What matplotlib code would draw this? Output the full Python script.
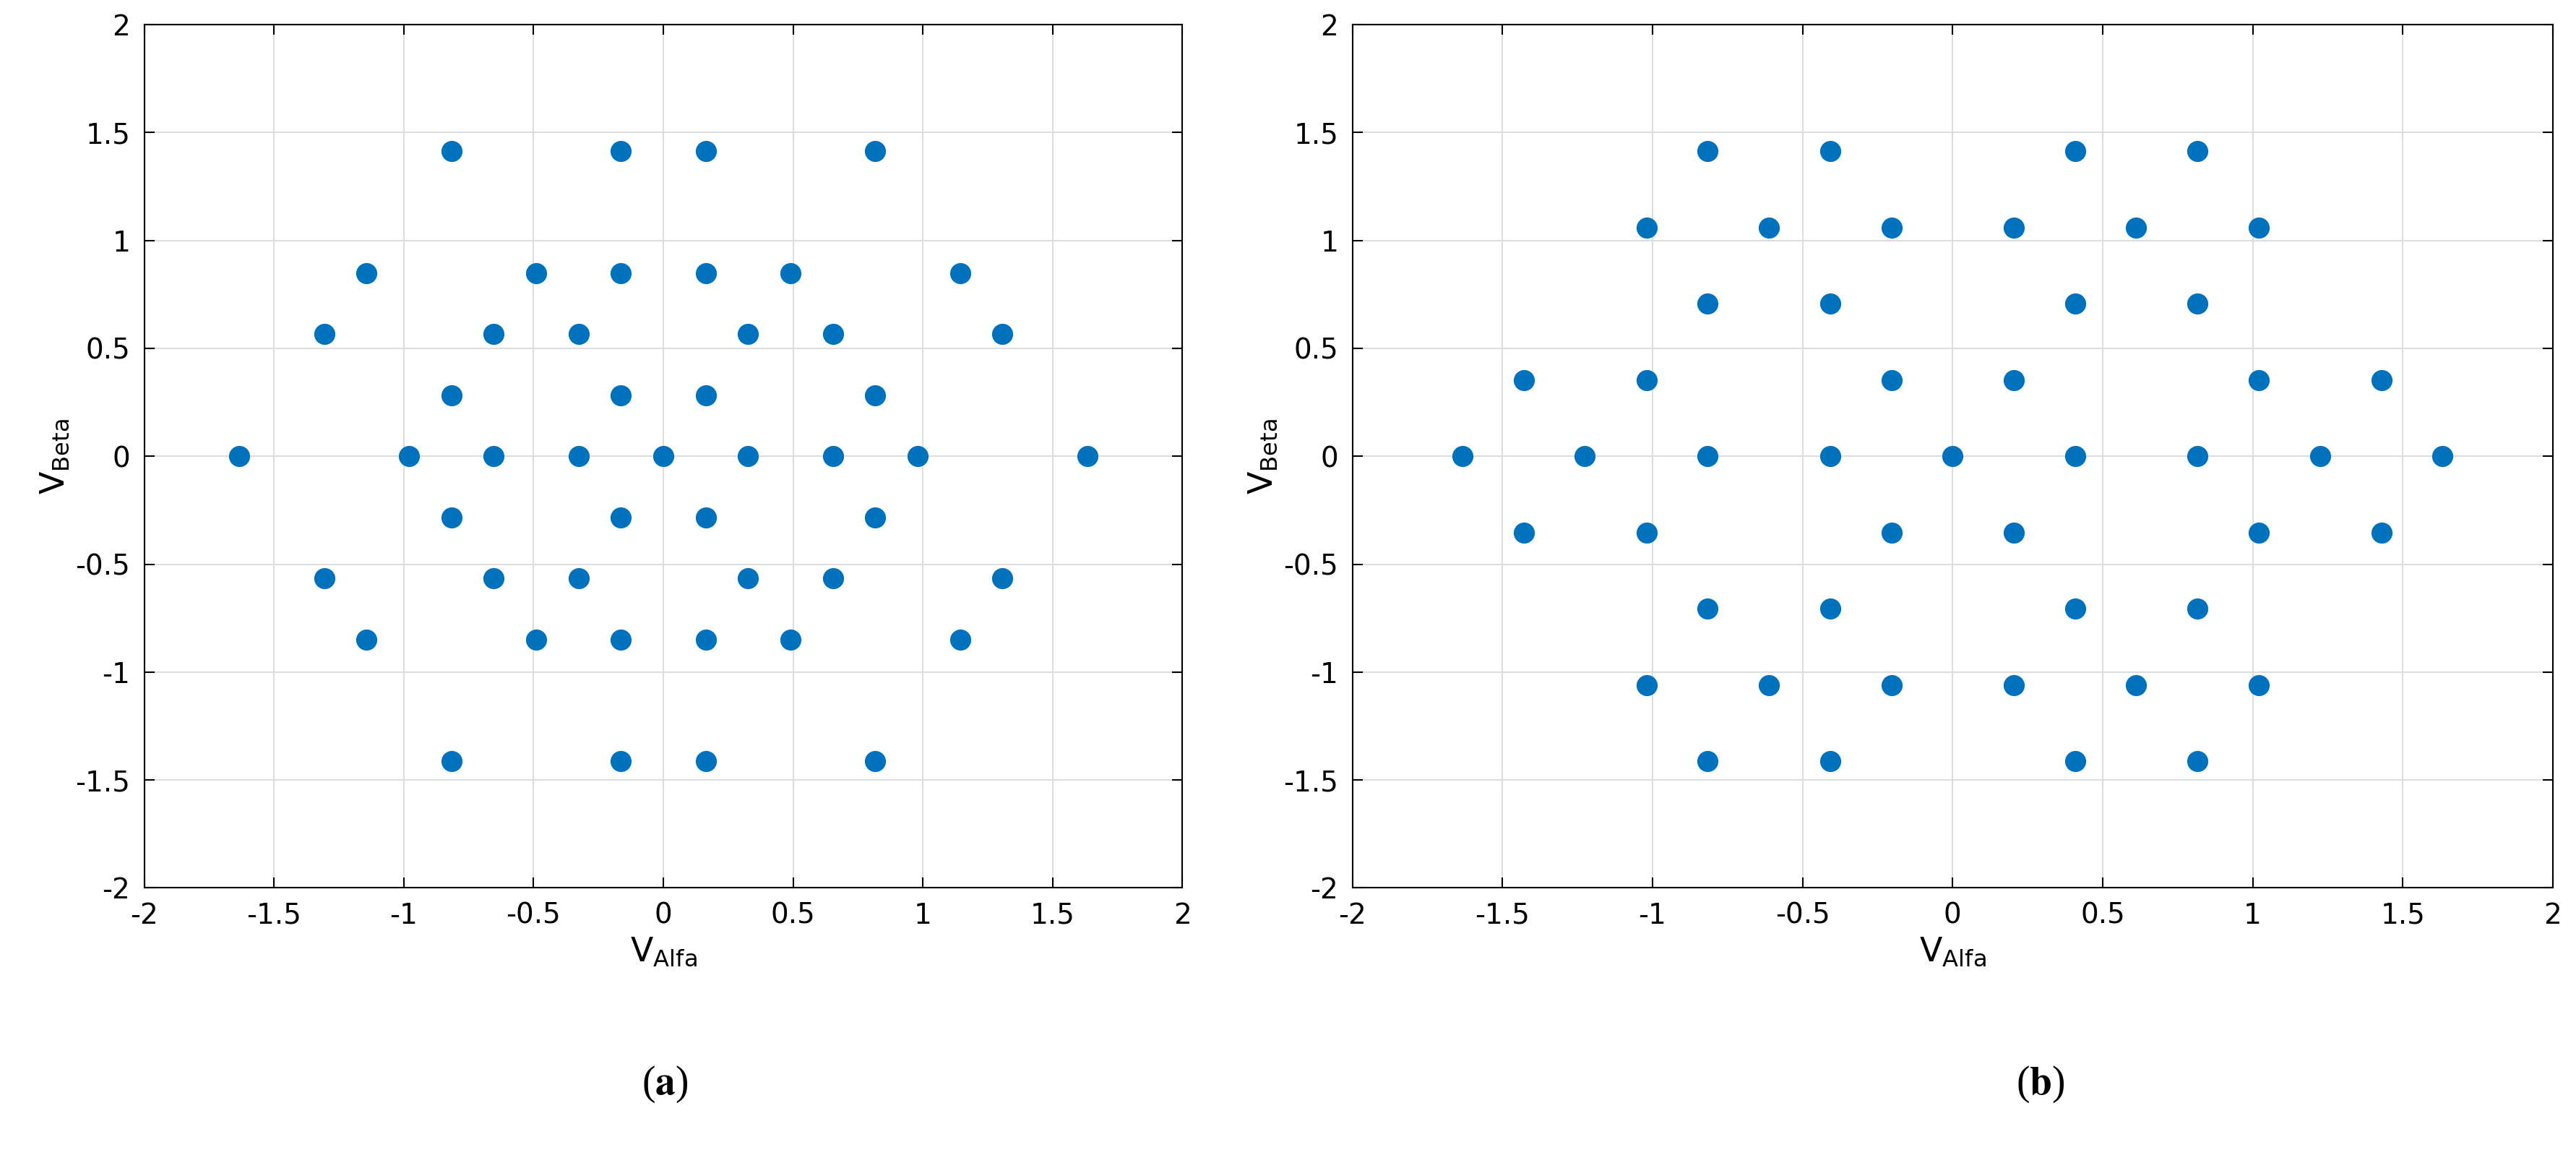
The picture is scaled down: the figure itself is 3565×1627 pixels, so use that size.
import matplotlib
matplotlib.use("Agg")
import matplotlib.pyplot as plt
import numpy as np

# panel (a) upper half rows (y, list of x); lower half is mirrored
a_rows = [
    (1.414, [-0.816, -0.163, 0.163, 0.816]),
    (0.849, [-1.143, -0.49, -0.163, 0.163, 0.49, 1.143]),
    (0.566, [-1.306, -0.653, -0.327, 0.327, 0.653, 1.306]),
    (0.283, [-0.816, -0.163, 0.163, 0.816]),
]
a_zero = [-1.633, -0.98, -0.653, -0.327, 0.0, 0.327, 0.653, 0.98, 1.633]

b_rows = [
    (1.414, [-0.816, -0.408, 0.408, 0.816]),
    (1.061, [-1.02, -0.612, -0.204, 0.204, 0.612, 1.02]),
    (0.707, [-0.816, -0.408, 0.408, 0.816]),
    (0.354, [-1.429, -1.02, -0.204, 0.204, 1.02, 1.429]),
]
b_zero = [-1.633, -1.225, -0.816, -0.408, 0.0, 0.408, 0.816, 1.225, 1.633]

ticks = [-2, -1.5, -1, -0.5, 0, 0.5, 1, 1.5, 2]
tick_labels = ["-2", "-1.5", "-1", "-0.5", "0", "0.5", "1", "1.5", "2"]


def build(rows, zero):
    xs, ys = list(zero), [0.0] * len(zero)
    for y, xr in rows:
        for x in xr:
            xs += [x, x]
            ys += [y, -y]
    return np.array(xs), np.array(ys)


fig = plt.figure(figsize=(35.65, 16.27), dpi=100)
ax1 = fig.add_axes([0.056, 0.245, 0.403, 0.734])
ax2 = fig.add_axes([0.525, 0.245, 0.466, 0.734])

for ax, (rows, zero) in zip([ax1, ax2], [(a_rows, a_zero), (b_rows, b_zero)]):
    xs, ys = build(rows, zero)
    ax.plot(xs, ys, 'o', color='#0072BD', markersize=20, zorder=3)
    ax.set_xlim(-2, 2)
    ax.set_ylim(-2, 2)
    ax.set_xticks(ticks)
    ax.set_xticklabels(tick_labels)
    ax.set_yticks(ticks)
    ax.set_yticklabels(tick_labels)
    ax.grid(True, color='#dddddd', linewidth=1.5)
    ax.tick_params(direction='in', labelsize=28, length=10, width=1.5, pad=14,
                   top=True, right=True)
    for s in ax.spines.values():
        s.set_linewidth(1.5)
    ax.set_xlabel(r'V$_{\mathrm{Alfa}}$', fontsize=33, labelpad=6)
    ax.set_ylabel(r'V$_{\mathrm{Beta}}$', fontsize=33, labelpad=4)

for xpos, letter in [(0.258, 'a'), (0.792, 'b')]:
    fig.text(xpos, 0.078, r'($\mathbf{%s}$)' % letter, fontsize=40,
             family='Liberation Serif', math_fontfamily='stix',
             ha='center', va='center')

fig.savefig("out.png", dpi=100)
